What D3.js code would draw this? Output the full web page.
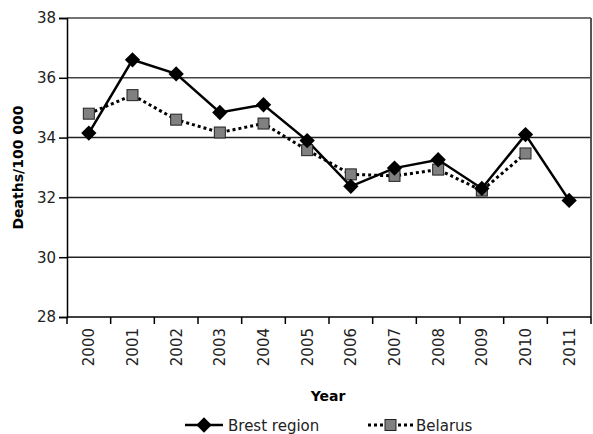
<!DOCTYPE html>
<html>
<head>
<meta charset="utf-8">
<script src="https://cdn.jsdelivr.net/npm/d3@7"></script>
<style>
  body { margin: 0; background: #fff; }
  svg { display: block; font-family: "DejaVu Sans", sans-serif; }
</style>
</head>
<body>
<svg class="svg"></svg>
<script>
const years = ['2000', '2001', '2002', '2003', '2004', '2005', '2006', '2007', '2008', '2009', '2010', '2011'];
const brest = [34.15, 36.6, 36.13, 34.84, 35.1, 33.9, 32.37, 32.98, 33.26, 32.3, 34.1, 31.9];
const belarus = [34.8, 35.42, 34.6, 34.17, 34.47, 33.58, 32.77, 32.72, 32.93, 32.23, 33.47, null];
const yTicks = [28, 30, 32, 34, 36, 38];

const width = 593;
const height = 434;
const margin = { top: 18, right: 2, bottom: 117, left: 67 };

const svg = d3.select('.svg').attr('width', width).attr('height', height);

const x = d3.scaleBand()
  .domain(years)
  .range([margin.left, width - margin.right]);

const y = d3.scaleLinear()
  .domain([28, 38])
  .range([height - margin.bottom, margin.top]);

// gridlines
svg.append('g')
  .selectAll('line')
  .data(yTicks.slice(1))
  .join('line')
  .attr('x1', margin.left)
  .attr('x2', width - margin.right)
  .attr('y1', d => y(d))
  .attr('y2', d => y(d))
  .attr('stroke', d => d == 36 || d == 38 ? '#444' : '#222')
  .attr('stroke-width', 1.5);

// right border
svg.append('line')
  .attr('x1', width - margin.right).attr('x2', width - margin.right)
  .attr('y1', margin.top).attr('y2', y(28))
  .attr('stroke', '#555')
  .attr('stroke-width', 2);

// y axis
const yAxis = svg.append('g')
  .attr('transform', `translate(${margin.left},0)`)
  .call(d3.axisLeft(y).tickValues(yTicks).tickSize(8).tickPadding(3).tickFormat(d3.format('d')));
yAxis.select('.domain').attr('stroke', '#000').attr('stroke-width', 1.5);
yAxis.selectAll('.tick line').attr('stroke', '#000').attr('stroke-width', 1.5);
yAxis.selectAll('text').attr('font-size', 15).attr('fill', '#222').attr('font-family', '"DejaVu Sans", sans-serif');

// x axis: ticks on band boundaries
const xg = svg.append('g').attr('transform', `translate(0,${y(28)})`);
xg.append('line')
  .attr('x1', margin.left).attr('x2', width - margin.right)
  .attr('stroke', '#000').attr('stroke-width', 1.5);
xg.selectAll('.tk')
  .data(years.concat(['end']))
  .join('line')
  .attr('class', 'tk')
  .attr('x1', (d, i) => margin.left + i * x.step())
  .attr('x2', (d, i) => margin.left + i * x.step())
  .attr('y1', 0).attr('y2', 7)
  .attr('stroke', '#000').attr('stroke-width', 1.5);
xg.selectAll('text')
  .data(years)
  .join('text')
  .attr('transform', d => `translate(${x(d) + x.bandwidth() / 2 + 5.5},11) rotate(-90)`)
  .attr('text-anchor', 'end')
  .attr('font-size', 15)
  .attr('fill', '#222')
  .text(d => d);

// axis titles
svg.append('text')
  .attr('transform', `translate(23,${(margin.top + y(28)) / 2}) rotate(-90)`)
  .attr('text-anchor', 'middle')
  .attr('font-size', 14)
  .attr('font-weight', 'bold')
  .text('Deaths/100 000');

svg.append('text')
  .attr('x', 328)
  .attr('y', 401)
  .attr('text-anchor', 'middle')
  .attr('font-size', 14)
  .attr('font-weight', 'bold')
  .text('Year');

const cx = d => x(d) + x.bandwidth() / 2;
const line = d3.line()
  .defined(d => d[1] != null)
  .x(d => cx(d[0]))
  .y(d => y(d[1]));

const belData = years.map((d, i) => [d, belarus[i]]);
const brData = years.map((d, i) => [d, brest[i]]);

// Belarus dotted
svg.append('path')
  .attr('d', line(belData))
  .attr('fill', 'none')
  .attr('stroke', '#000')
  .attr('stroke-width', 3)
  .attr('stroke-dasharray', '3,3');

// Brest solid
svg.append('path')
  .attr('d', line(brData))
  .attr('fill', 'none')
  .attr('stroke', '#000')
  .attr('stroke-width', 2.5);

const sq = 11;
svg.append('g')
  .selectAll('rect')
  .data(belData.filter(d => d[1] != null))
  .join('rect')
  .attr('x', d => cx(d[0]) - sq / 2)
  .attr('y', d => y(d[1]) - sq / 2)
  .attr('width', sq)
  .attr('height', sq)
  .attr('fill', '#808080')
  .attr('stroke', '#222')
  .attr('stroke-width', 1);

const diamond = d3.symbol().type(d3.symbolDiamond2).size(150);
svg.append('g')
  .selectAll('path')
  .data(brData)
  .join('path')
  .attr('transform', d => `translate(${cx(d[0])},${y(d[1])})`)
  .attr('d', diamond)
  .attr('fill', '#000');

// legend
const lg = svg.append('g').attr('transform', 'translate(0,425)');
lg.append('line').attr('x1', 185).attr('x2', 223).attr('stroke', '#000').attr('stroke-width', 2.5);
lg.append('path').attr('transform', 'translate(204,0)').attr('d', diamond).attr('fill', '#000');
lg.append('text').attr('x', 228).attr('y', 5.5).attr('font-size', 15).attr('fill', '#222').text('Brest region');

lg.append('line').attr('x1', 368).attr('x2', 413).attr('stroke', '#000').attr('stroke-width', 3).attr('stroke-dasharray', '3,3');
lg.append('rect').attr('x', 385).attr('y', -5.5).attr('width', sq).attr('height', sq)
  .attr('fill', '#808080').attr('stroke', '#222');
lg.append('text').attr('x', 416).attr('y', 5.5).attr('font-size', 15).attr('fill', '#222').text('Belarus');
</script>
</body>
</html>
